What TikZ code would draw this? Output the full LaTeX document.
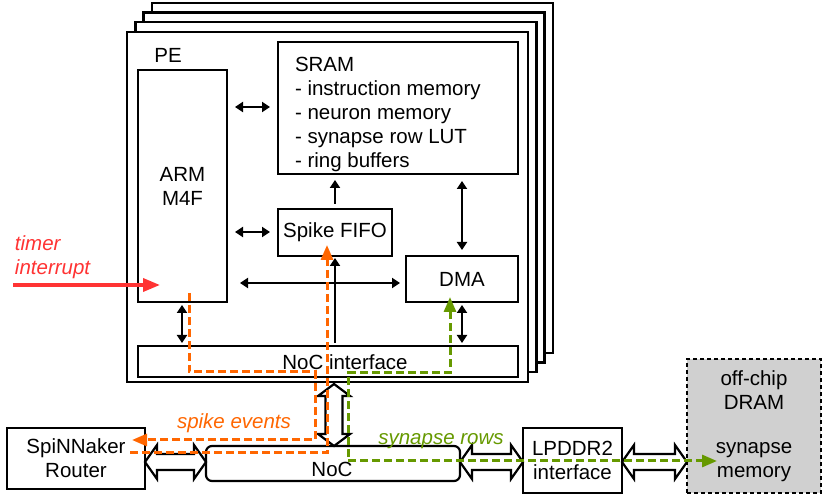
\documentclass[tikz,border=0pt]{standalone}
\usepackage{fontspec}
\setmainfont{Liberation Sans}
\usetikzlibrary{arrows.meta,calc}
\definecolor{sporange}{RGB}{255,102,0}
\definecolor{spgreen}{RGB}{102,153,0}
\definecolor{spred}{RGB}{255,51,51}
\definecolor{dramgray}{RGB}{208,208,208}
\newcommand{\hollowh}[2]{%
  \path[bigarrow] let \p1=(#1), \p2=(#2) in
   (\x1,\y1) -- (\x1+12pt,\y1+17pt) -- (\x1+12pt,\y1+8pt) -- (\x2-12pt,\y1+8pt)
   -- (\x2-12pt,\y1+17pt) -- (\x2,\y1) -- (\x2-12pt,\y1-17pt) -- (\x2-12pt,\y1-8pt)
   -- (\x1+12pt,\y1-8pt) -- (\x1+12pt,\y1-17pt) -- cycle;}
\newcommand{\hollowv}[2]{%
  \path[bigarrow] let \p1=(#1), \p2=(#2) in
   (\x1,\y1) -- (\x1+16pt,\y1-12pt) -- (\x1+8.5pt,\y1-12pt) -- (\x1+8.5pt,\y2+12pt)
   -- (\x1+16pt,\y2+12pt) -- (\x1,\y2) -- (\x1-16pt,\y2+12pt) -- (\x1-8.5pt,\y2+12pt)
   -- (\x1-8.5pt,\y1-12pt) -- (\x1-16pt,\y1-12pt) -- cycle;}
\begin{document}
\begin{tikzpicture}[x=1pt,y=-1pt,
  every node/.style={font=\fontsize{20.5}{24}\selectfont, inner sep=0pt, outer sep=0pt},
  frame/.style={draw, line width=2.4pt, fill=white, minimum width=401pt, minimum height=350pt},
  box/.style={draw, line width=2.2pt, fill=white},
  dbl/.style={{Triangle[length=8pt,width=10pt]}-{Triangle[length=8pt,width=10pt]}, line width=2pt},
  sgl/.style={-{Triangle[length=8pt,width=10pt]}, line width=2pt},
  bigarrow/.style={draw, line width=2.2pt, fill=white, line join=miter},
  orangepath/.style={draw=sporange, line width=3pt, dash pattern=on 8pt off 4pt,
     -{Triangle[length=15pt,width=12pt]}},
  greenpath/.style={draw=spgreen, line width=3pt, dash pattern=on 8pt off 4pt,
     {Triangle[length=15pt,width=12pt]}-{Triangle[length=15pt,width=12pt]}},
  lbl/.style={font=\fontsize{20.5}{24}\selectfont\itshape}
]
\useasboundingbox (0,0) rectangle (823,494);

% stacked PE frames
\node[frame] (f4) at (352.4,177.9) {};
\node[frame] (f3) at (344.1,187.6) {};
\node[frame] (f2) at (335.8,197.3) {};
\node[frame] (pe) at (327.5,207) {};
\node (pelabel) at (168,55) {PE};

% inner blocks
\node[box, minimum width=89pt, minimum height=232pt, align=center] (arm) at (182.5,186) {ARM\\M4F};
\node[box, minimum width=240pt, minimum height=132pt] (sram) at (398,108) {};
\node[anchor=north west, align=left] (sramtxt) at (295,57)
  {SRAM\\- instruction memory\\- neuron memory\\- synapse row LUT\\- ring buffers};
\node[box, minimum width=114pt, minimum height=47pt] (fifo) at (335,232.5) {Spike FIFO};
\node[box, minimum width=112pt, minimum height=46pt] (dma) at (462,279) {DMA};
\node[box, minimum width=380pt, minimum height=31pt] (nocif) at (328,361.5) {};
\node (nociftxt) at (345,362) {NoC interface};

% lower blocks
\node[box, minimum width=138pt, minimum height=61pt, align=center] (router) at (76,458.5) {SpiNNaker\\Router};
\node[box, rounded corners=6pt, minimum width=254pt, minimum height=35pt] (noc) at (333,463.5) {};
\node (noctxt) at (332,469) {NoC};
\node[box, minimum width=99pt, minimum height=65pt, align=center] (lpddr) at (572.5,460.5) {LPDDR2\\interface};
\node[draw, line width=2.2pt, dash pattern=on 4pt off 3pt, fill=dramgray,
      minimum width=134pt, minimum height=134pt] (dram) at (754,426) {};
\node[align=center] (dramtxt) at (754,390) {off-chip\\DRAM};
\node[align=center] (memtxt) at (754,462) {synapse\\memory};

% black arrows inside PE
\draw[dbl, shorten <=8pt, shorten >=8pt] (arm.east |- 0,107) -- (sram.west |- 0,107);
\draw[dbl, shorten <=8pt, shorten >=8pt] (arm.east |- 0,232) -- (fifo.west |- 0,232);
\draw[dbl, shorten <=13pt, shorten >=6pt] (arm.east |- 0,283) -- (dma.west |- 0,283);
\draw[sgl, shorten <=5pt, shorten >=6pt] (fifo.north) -- (sram.south -| fifo.north);
\draw[sgl, shorten <=3pt, shorten >=2pt] (nocif.north -| fifo.south) -- (fifo.south);
\draw[dbl, shorten <=7pt, shorten >=6pt] (sram.south -| dma.north) -- (dma.north);
\draw[dbl, shorten <=3pt, shorten >=3pt] (arm.south -| 182,0) -- (nocif.north -| 182,0);
\draw[dbl, shorten <=3pt, shorten >=3pt] (dma.south) -- (nocif.north -| dma.south);

% hollow double arrows
\coordinate (ylev) at (0,462);
\coordinate (vx) at (334,0);
\hollowh{router.east |- ylev}{noc.west |- ylev}
\hollowh{noc.east |- ylev}{lpddr.west |- ylev}
\hollowh{lpddr.east |- ylev}{dram.west |- ylev}
\hollowv{$(pe.south -| vx)+(0,2)$}{noc.north -| vx}

% timer interrupt
\coordinate (tstart) at (13,285);
\draw[spred, line width=3.5pt, -{Triangle[length=17pt,width=13pt]}] (tstart) -- ($(arm.west |- tstart)+(22,0)$);
\node[lbl, text=spred, anchor=north west, align=left] (timer) at (15,236) {timer\\interrupt};

% spike paths (orange)
\coordinate (o1s) at (189,293);
\coordinate (rtip) at ($(router.east)+(-13,0)$);
\draw[orangepath] (o1s) -- (189,372) -- (315,372) -- (315,440) -- (rtip |- 0,440);
\coordinate (o2s) at ($(router.east)+(-15,0)$);
\draw[orangepath] (o2s |- 0,453) -- (327,453) -- ($(fifo.south -| 327,0)+(0,-11)$);
\node[lbl, text=sporange] (spk) at (234,423) {spike events};

% synapse rows (green)
\coordinate (gtip) at ($(dram.west |- 0,461)+(30,0)$);
\draw[greenpath] ($(dma.south -| 450,0)+(0,-5)$) -- (450,373) -- (348,373) -- (348,461) -- (gtip);
\node[lbl, text=spgreen] (syn) at (441,441) {synapse rows};
\end{tikzpicture}
\end{document}
